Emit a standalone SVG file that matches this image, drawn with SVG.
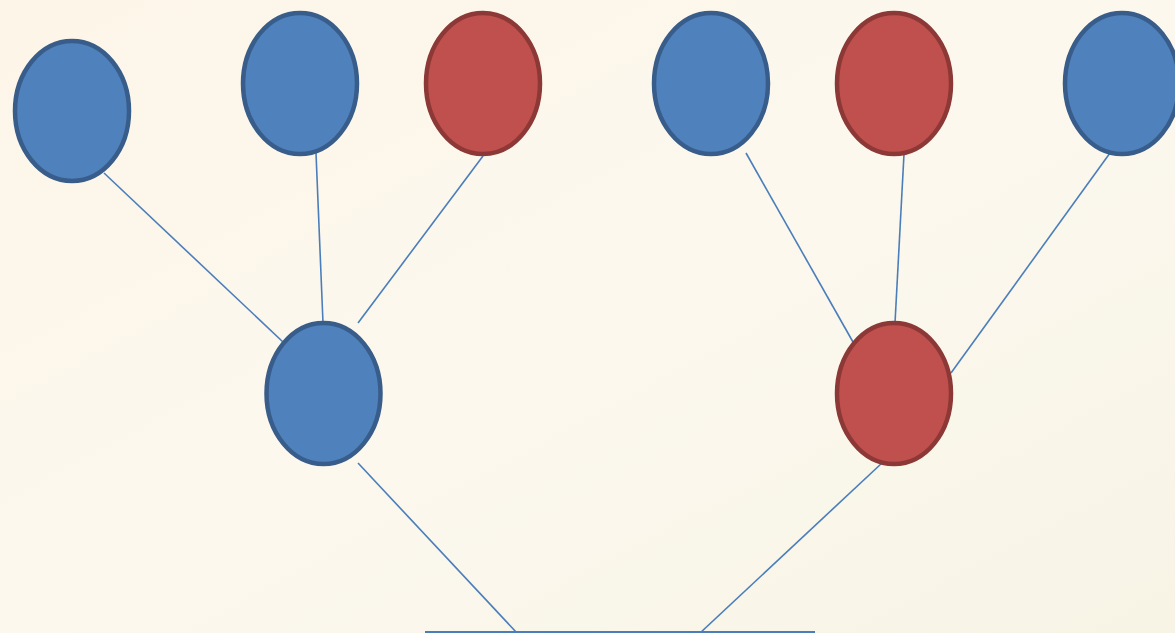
<svg xmlns="http://www.w3.org/2000/svg" width="1175" height="633" viewBox="0 0 1175 633">
<style>
.b{fill:#4f81bd;stroke:#385d8a;stroke-width:4.5}
.r{fill:#c0504d;stroke:#8c3836;stroke-width:4.5}
.c line{stroke:#4a7ebb;stroke-width:1.6;fill:none}
</style>
<defs>
<linearGradient id="bg" x1="0" y1="0" x2="1" y2="1">
<stop offset="0" stop-color="#fdf5e8"/>
<stop offset="0.5" stop-color="#fcf8ee"/>
<stop offset="1" stop-color="#f7f4e6"/>
</linearGradient>
</defs>
<rect width="1175" height="633" fill="url(#bg)"/>
<g class="c" id="connectors">
<line x1="104" y1="173" x2="283" y2="342"/>
<line x1="316" y1="153" x2="323" y2="323"/>
<line x1="483" y1="156" x2="358" y2="323"/>
<line x1="746" y1="153" x2="853" y2="342"/>
<line x1="904" y1="154" x2="895" y2="323"/>
<line x1="1110" y1="153" x2="951" y2="373"/>
<line x1="358" y1="463" x2="517" y2="633"/>
<line x1="882" y1="463" x2="700" y2="633"/>
<line x1="425" y1="632" x2="815" y2="632" style="stroke-width:2"/>
</g>
<g id="n1"><ellipse class="b" cx="72" cy="111" rx="57" ry="70"/></g>
<g id="n2"><ellipse class="b" cx="300" cy="83.5" rx="57" ry="70.5"/></g>
<g id="n3"><ellipse class="r" cx="483" cy="83.5" rx="57" ry="70.5"/></g>
<g id="n4"><ellipse class="b" cx="711" cy="83.5" rx="57" ry="70.5"/></g>
<g id="n5"><ellipse class="r" cx="894" cy="83.5" rx="57" ry="70.5"/></g>
<g id="n6"><ellipse class="b" cx="1122" cy="83.5" rx="57" ry="70.5"/></g>
<g id="n7"><ellipse class="b" cx="323.5" cy="393.5" rx="57" ry="70.5"/></g>
<g id="n8"><ellipse class="r" cx="894" cy="393.5" rx="57" ry="70.5"/></g>
</svg>
